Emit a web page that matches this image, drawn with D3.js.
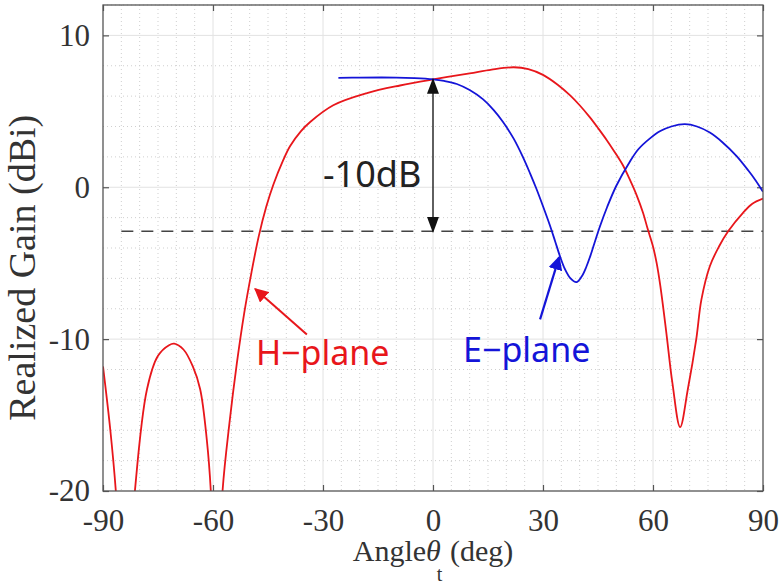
<!DOCTYPE html>
<html>
<head>
<meta charset="utf-8">
<script src="https://cdn.jsdelivr.net/npm/d3@7"></script>
<style>
  body { margin: 0; background: #fff; }
  svg { display: block; }
</style>
</head>
<body>
<svg id="chart"></svg>
<script>
// angle (deg) and realized gain (dBi)
const hAngle = [-90, -88, -86.5, -84, -81.3, -78, -75, -72, -70.6, -68, -65.5, -63.5, -61.7, -60.6, -59.3, -57.4, -55.5, -53.5, -51.5, -49.5, -47.5, -45.5, -43.5, -41, -39, -36, -33.5, -27.2, -18, -9, 0, 10, 16, 22, 26, 30, 34, 37.4, 40, 42.8, 45, 47.4, 50, 51.8, 53.5, 55.5, 57.3, 58.5, 60, 61, 62, 63.6, 65.3, 67.4, 69.5, 71.8, 73.2, 75.5, 78, 80.5, 84.6, 87, 90];
const hGain  = [-11.8, -16, -20, -30, -20, -13.3, -11.1, -10.4, -10.3, -10.7, -11.8, -13.3, -16.6, -20, -30, -20, -15.5, -11.6, -8.3, -5.6, -3.2, -1.3, 0.2, 1.7, 2.7, 3.7, 4.3, 5.4, 6.2, 6.7, 7.1, 7.5, 7.75, 7.9, 7.78, 7.4, 6.75, 6.05, 5.4, 4.6, 3.9, 3.1, 2.15, 1.45, 0.6, -0.5, -1.7, -2.7, -3.9, -5.0, -6.5, -9.5, -12.9, -15.8, -13.3, -10, -7.4, -5.2, -3.9, -2.9, -1.67, -1.1, -0.75];

const eAngle = [-25.8, -20, -10, -5, 0, 3, 6.5, 10, 13.6, 16.5, 19.1, 22, 24.5, 26.5, 28.2, 30, 31.8, 33.3, 34.5, 36, 37.5, 39.1, 40.5, 41.8, 42.8, 44, 45.5, 47.5, 50, 53.6, 56, 59.1, 62, 65, 68.7, 72, 75.5, 79, 82.8, 86, 88, 90];
const eGain  = [7.2, 7.22, 7.22, 7.18, 7.1, 7.0, 6.8, 6.4, 5.8, 5.1, 4.3, 3.2, 2.0, 0.9, -0.1, -1.25, -2.45, -3.55, -4.45, -5.4, -6.0, -6.25, -5.9, -5.25, -4.6, -3.7, -2.6, -1.3, 0.1, 1.65, 2.5, 3.2, 3.7, 4.0, 4.15, 4.0, 3.6, 2.95, 2.05, 1.1, 0.45, -0.3];

const xTicks = [-90, -60, -30, 0, 30, 60, 90];
const yTicks = [-20, -10, 0, 10];

const peakGain = 7.1;            // gain at 0 deg
const levelGain = peakGain - 10; // -10 dB reference level

var svgW = 779, svgH = 587;
var margin = { top: 5, right: 16, bottom: 96, left: 103 };
var width = svgW - margin.left - margin.right;
var height = svgH - margin.top - margin.bottom;

var serif = '"Liberation Serif", "Times New Roman", serif';
var sans = '"Noto Sans", "DejaVu Sans", sans-serif';

var svg = d3.select('#chart')
    .attr('width', svgW)
    .attr('height', svgH);

svg.append('rect').attr('width', svgW).attr('height', svgH).attr('fill', '#fff');

var g = svg.append('g')
    .attr('transform', 'translate(' + margin.left + ',' + margin.top + ')');

var x = d3.scaleLinear().domain([-90, 90]).range([0, width]);
var y = d3.scaleLinear().domain([-20, 12]).range([height, 0]);

// minor grid (dotted)
g.append('g').selectAll('line')
    .data(d3.range(-85, 90, 5).filter(function(d) { return d % 30 !== 0; }))
    .enter().append('line')
    .attr('x1', function(d) { return x(d); }).attr('x2', function(d) { return x(d); })
    .attr('y1', 0).attr('y2', height)
    .attr('stroke', '#cfcfcf').attr('stroke-width', 1).attr('stroke-dasharray', '1,3');
g.append('g').selectAll('line')
    .data(d3.range(-18, 12.1, 2).filter(function(d) { return d % 10 !== 0; }))
    .enter().append('line')
    .attr('y1', function(d) { return y(d); }).attr('y2', function(d) { return y(d); })
    .attr('x1', 0).attr('x2', width)
    .attr('stroke', '#cfcfcf').attr('stroke-width', 1).attr('stroke-dasharray', '1,3');

// major grid
g.append('g').selectAll('line')
    .data(xTicks.slice(1, -1))
    .enter().append('line')
    .attr('x1', function(d) { return x(d); }).attr('x2', function(d) { return x(d); })
    .attr('y1', 0).attr('y2', height)
    .attr('stroke', '#e2e2e2').attr('stroke-width', 1);
g.append('g').selectAll('line')
    .data(yTicks.slice(1))
    .enter().append('line')
    .attr('y1', function(d) { return y(d); }).attr('y2', function(d) { return y(d); })
    .attr('x1', 0).attr('x2', width)
    .attr('stroke', '#e2e2e2').attr('stroke-width', 1);

// axes, ticks pointing inward, plain hyphen for negatives
function fmt(d) { return String(d); }
function styleAxis(sel) {
  sel.attr('font-family', serif).attr('font-size', 31);
  sel.select('.domain').remove();
  sel.selectAll('.tick line').attr('stroke', '#555').attr('stroke-width', 1.2);
  sel.selectAll('.tick text')
      .attr('fill', '#333')
      .attr('font-family', serif)
      .attr('font-size', 31);
}
g.append('g')
    .attr('transform', 'translate(0,' + height + ')')
    .call(d3.axisBottom(x).tickValues(xTicks).tickFormat(fmt).tickSizeInner(-6).tickSizeOuter(0).tickPadding(18))
    .call(styleAxis);
g.append('g')
    .call(d3.axisLeft(y).tickValues(yTicks).tickFormat(fmt).tickSizeInner(-6).tickSizeOuter(0).tickPadding(13))
    .call(styleAxis);
g.append('g')
    .call(d3.axisTop(x).tickValues(xTicks).tickSizeInner(-6).tickSizeOuter(0).tickFormat(''))
    .call(styleAxis);
g.append('g')
    .attr('transform', 'translate(' + width + ',0)')
    .call(d3.axisRight(y).tickValues(yTicks).tickSizeInner(-6).tickSizeOuter(0).tickFormat(''))
    .call(styleAxis);

// -10 dB reference level
g.append('line')
    .attr('x1', x(-85)).attr('x2', x(90))
    .attr('y1', y(levelGain)).attr('y2', y(levelGain))
    .attr('stroke', '#444').attr('stroke-width', 1.5)
    .attr('stroke-dasharray', '12,8');

// curves
g.append('clipPath').attr('id', 'plotclip')
  .append('rect').attr('width', width).attr('height', height);

var line = d3.line()
    .x(function(d) { return x(d[0]); })
    .y(function(d) { return y(d[1]); })
    .curve(d3.curveCatmullRom.alpha(0.5));

g.append('path')
    .datum(d3.zip(hAngle, hGain))
    .attr('clip-path', 'url(#plotclip)')
    .attr('fill', 'none')
    .attr('stroke', '#e8161b')
    .attr('stroke-width', 1.8)
    .attr('stroke-linejoin', 'round')
    .attr('d', line);

g.append('path')
    .datum(d3.zip(eAngle, eGain))
    .attr('clip-path', 'url(#plotclip)')
    .attr('fill', 'none')
    .attr('stroke', '#1414d8')
    .attr('stroke-width', 1.8)
    .attr('stroke-linejoin', 'round')
    .attr('d', line);

// arrow heads
var defs = svg.append('defs');
[['headK', '#111', 16, 12], ['headR', '#e8161b', 14, 14], ['headB', '#1414d8', 14, 14]].forEach(function(m) {
  defs.append('marker')
      .attr('id', m[0])
      .attr('viewBox', '0 0 10 10')
      .attr('refX', 9).attr('refY', 5)
      .attr('markerWidth', m[2]).attr('markerHeight', m[3])
      .attr('markerUnits', 'userSpaceOnUse')
      .attr('orient', 'auto-start-reverse')
      .attr('preserveAspectRatio', 'none')
    .append('path')
      .attr('d', 'M0,0 L10,5 L0,10 Z')
      .attr('fill', m[1]);
});

// -10 dB double arrow
g.append('line')
    .attr('x1', x(0)).attr('x2', x(0))
    .attr('y1', y(peakGain)).attr('y2', y(levelGain))
    .attr('stroke', '#111').attr('stroke-width', 1.3)
    .attr('marker-start', 'url(#headK)')
    .attr('marker-end', 'url(#headK)');

g.append('text')
    .attr('x', x(-30)).attr('y', y(0))
    .attr('fill', '#222')
    .style('font-family', sans).style('font-size', '36px')
    .text('-10dB');

// H-plane label and arrow
g.append('line')
    .attr('x1', x(-34.4)).attr('y1', y(-9.7))
    .attr('x2', x(-48.5)).attr('y2', y(-6.7))
    .attr('stroke', '#e8161b').attr('stroke-width', 2)
    .attr('marker-end', 'url(#headR)');
g.append('text')
    .attr('x', x(-48.3)).attr('y', y(-11.7))
    .attr('fill', '#e8161b')
    .style('font-family', sans).style('font-size', '34px')
    .text('H\u2212plane');

// E-plane label and arrow
g.append('line')
    .attr('x1', x(29.2)).attr('y1', y(-8.7))
    .attr('x2', x(34.4)).attr('y2', y(-4.6))
    .attr('stroke', '#1414d8').attr('stroke-width', 2.2)
    .attr('marker-end', 'url(#headB)');
g.append('text')
    .attr('x', x(8.2)).attr('y', y(-11.5))
    .attr('fill', '#1414d8')
    .style('font-family', sans).style('font-size', '34px')
    .text('E\u2212plane');

// plot box
g.append('rect')
    .attr('width', width).attr('height', height)
    .attr('fill', 'none').attr('stroke', '#555').attr('stroke-width', 1.3);

// axis titles
var xl = svg.append('text')
    .attr('x', margin.left + x(0)).attr('y', 561)
    .attr('text-anchor', 'middle')
    .attr('fill', '#333')
    .style('font-family', serif).style('font-size', '30px');
xl.append('tspan').text('Angle');
xl.append('tspan').style('font-style', 'italic').text('\u03b8');
xl.append('tspan').attr('dx', -4).attr('dy', 20).style('font-size', '20px').text('t');
xl.append('tspan').attr('dy', -20).text(' (deg)');

svg.append('text')
    .attr('transform', 'translate(35,' + (margin.top + y(-5.3)) + ') rotate(-90)')
    .attr('text-anchor', 'middle')
    .attr('fill', '#333')
    .style('font-family', serif).style('font-size', '38px')
    .text('Realized Gain (dBi)');
</script>
</body>
</html>
